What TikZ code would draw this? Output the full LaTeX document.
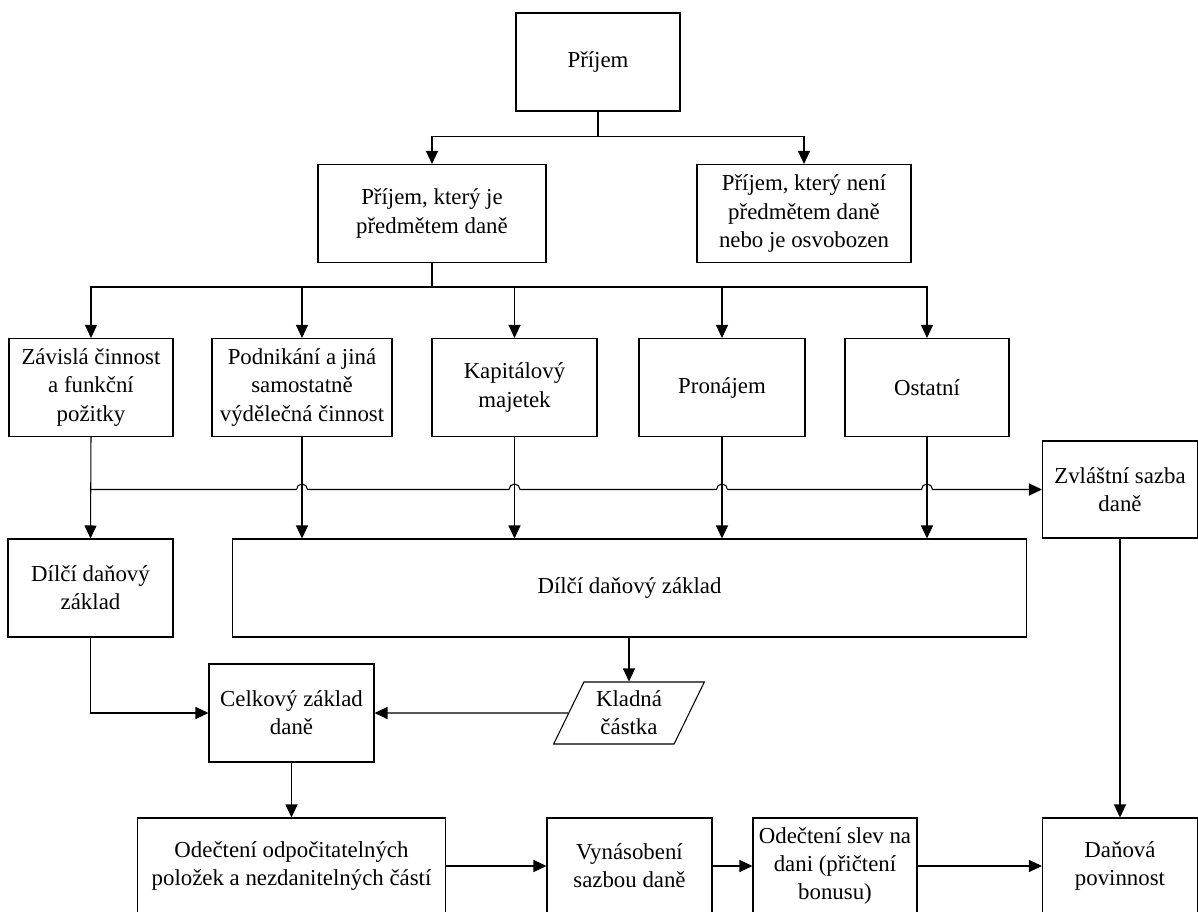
\documentclass[tikz,border=0pt]{standalone}
\usepackage{fontspec}
\setmainfont{Liberation Serif}
\usetikzlibrary{shapes.geometric, arrows.meta, positioning, calc}

\begin{document}
\begin{tikzpicture}[
    x=0.02cm, y=-0.02cm,
    font=\fontsize{13}{16}\selectfont,
    box/.style={rectangle, minimum height=1.96cm, text centered, align=center, draw=black, line width=0.6pt, inner sep=1pt},
    io/.style={trapezium, trapezium left angle=64, trapezium right angle=116, minimum width=3cm, minimum height=1.24cm, text centered, align=center, draw=black, line width=0.6pt, inner sep=1pt},
    arrow/.style={line width=0.6pt, -{Triangle[length=0.26cm, width=0.24cm]}},
]
    \useasboundingbox (0,0) rectangle (1198,912);

    % Income
    \node (prijem) [box, minimum width=3.28cm] at (598,62) {Příjem};
    \node (predmet) [box, minimum width=4.56cm] at (432,213.5) {Příjem, který je\\předmětem daně};
    \node (nepredmet) [box, minimum width=4.28cm] at (804,213.5) {Příjem, který není\\předmětem daně\\nebo je osvobozen};

    % Kinds of income
    \node (zavisla) [box, minimum width=3.28cm] at (91,387.5) {Závislá činnost\\a funkční\\požitky};
    \node (podnikani) [box, minimum width=3.6cm] at (302,387.5) {Podnikání a jiná\\samostatně\\výdělečná činnost};
    \node (kapital) [box, minimum width=3.3cm] at (514.5,387.5) {Kapitálový\\majetek};
    \node (pronajem) [box, minimum width=3.32cm] at (722,387.5) {Pronájem};
    \node (ostatni) [box, minimum width=3.28cm] at (927,387.5) {Ostatní};
    \node (zvlastni) [box, minimum width=3.1cm, minimum height=1.94cm] at (1120,489.5) {Zvláštní sazba\\daně};

    % Tax base
    \node (dilci1) [box, minimum width=3.3cm] at (90.5,588) {Dílčí daňový\\základ};
    \node (dilci2) [box, minimum width=15.9cm] at (629.5,588) {Dílčí daňový základ};
    \node (kladna) [io] at (629,713) {Kladná\\částka};
    \node (celkovy) [box, minimum width=3.3cm] at (291.5,713) {Celkový základ\\daně};

    % Bottom row
    \node (odecteni) [box, minimum width=6.18cm, minimum height=1.92cm] at (291.5,866) {Odečtení odpočitatelných\\položek a nezdanitelných částí};
    \node (vynasobeni) [box, minimum width=3.3cm, minimum height=1.92cm] at (629.5,866) {Vynásobení\\sazbou daně};
    \node (slevy) [box, minimum width=3.28cm, minimum height=1.92cm] at (835,866) {Odečtení slev na\\dani (přičtení\\bonusu)};
    \node (povinnost) [box, minimum width=3.1cm, minimum height=1.92cm] at (1120,866) {Daňová\\povinnost};

    % Connectors
    \draw [arrow] (prijem.south) -- ++(0,25) -| (predmet.north);
    \draw [arrow] (prijem.south) -- ++(0,25) -| (nepredmet.north);
    \foreach \n in {zavisla,podnikani,kapital,pronajem,ostatni}
        \draw [arrow] (predmet.south) -- ++(0,24) -| (\n.north);

    \coordinate (odbocka) at (zavisla.south |- zvlastni.west);
    \draw [arrow] (zavisla.south) -- (dilci1.north);
    \foreach \n in {podnikani,kapital,pronajem,ostatni}
        \draw [arrow] (\n.south) -- (\n.south |- dilci2.north);
    \draw [arrow] (odbocka)
        foreach \n in {podnikani,kapital,pronajem,ostatni} {
            -- ($(\n.south |- odbocka)+(-5.5,0)$) arc[start angle=180, end angle=0, radius=0.11cm]
        } -- (zvlastni.west);

    \draw [arrow] (dilci1.south) |- (celkovy.west);
    \draw [arrow] (kladna.north |- dilci2.south) -- (kladna.north);
    \draw [arrow] (kladna.west) -- (celkovy.east);
    \draw [arrow] (celkovy.south) -- (odecteni.north);
    \draw [arrow] (odecteni) -- (vynasobeni);
    \draw [arrow] (vynasobeni) -- (slevy);
    \draw [arrow] (slevy) -- (povinnost);
    \draw [arrow] (zvlastni) -- (povinnost);

\end{tikzpicture}
\end{document}
